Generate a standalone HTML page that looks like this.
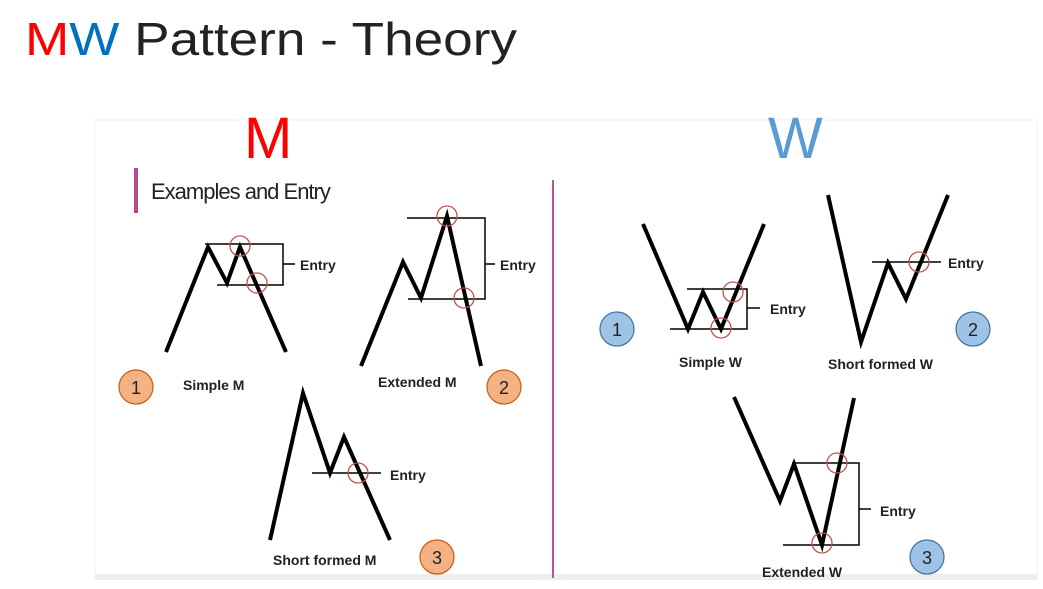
<!DOCTYPE html>
<html><head><meta charset="utf-8"><style>
html,body{margin:0;padding:0;background:#fff;}
svg{display:block;}
text{font-family:"Liberation Sans",sans-serif;}
</style></head><body>
<svg width="1043" height="589" viewBox="0 0 1043 589" xmlns="http://www.w3.org/2000/svg">
<rect x="0" y="0" width="1043" height="589" fill="#fff"/>
<text x="25" y="55" font-size="46" textLength="492" lengthAdjust="spacingAndGlyphs"><tspan fill="#ff0000">M</tspan><tspan fill="#0070c0">W</tspan><tspan fill="#222"> Pattern - Theory</tspan></text>
<rect x="95" y="120" width="942" height="458" fill="#fff" stroke="#f0f0f0"/>
<rect x="95" y="574" width="942" height="6" fill="#eeeeee"/>
<text x="244" y="158" font-size="58" fill="#ff0000">M</text>
<text x="768" y="158" font-size="58" fill="#5b9bd5">W</text>
<rect x="134" y="168" width="4" height="45" fill="#b9468a"/>
<text x="151" y="199" font-size="22" fill="#222" letter-spacing="-1">Examples and Entry</text>
<line x1="553" y1="180" x2="553" y2="578" stroke="#c0508f" stroke-width="2"/>

<g fill="none" stroke="#000" stroke-width="4" stroke-linejoin="miter">
<polyline points="166,352 208,247 227,283 240,247 286,352"/>
<polyline points="361,366 403,262 421,298 447,216 481,366"/>
<polyline points="270,540 303,393 330,473 344,437 390,540"/>
<polyline points="643,224 688,329 703,292 721,329 764,224"/>
<polyline points="828,195 861,342 888,263 906,299 948,195"/>
<polyline points="734,397 780,501 794,464 822,545 854,398"/>
</g>
<g fill="none" stroke="#000" stroke-width="1.5">
<polyline points="205,244 283,244 283,285 217,285"/><line x1="283" y1="264" x2="295" y2="264"/>
<polyline points="407,218 485,218 485,299 408,299"/><line x1="485" y1="264" x2="495" y2="264"/>
<line x1="312" y1="473" x2="381" y2="473"/>
<polyline points="687,289 747,289 747,329 670,329"/><line x1="747" y1="308" x2="760" y2="308"/>
<line x1="872" y1="262" x2="941" y2="262"/>
<polyline points="792,463 859,463 859,545 783,545"/><line x1="859" y1="509" x2="871" y2="509"/>
</g>
<g fill="none" stroke="#c0504d" stroke-width="1.3">
<circle cx="240" cy="246" r="10"/><circle cx="257" cy="283" r="10"/>
<circle cx="447" cy="216" r="10"/><circle cx="464" cy="298" r="10"/>
<circle cx="358" cy="473" r="10"/>
<circle cx="733" cy="292" r="10"/><circle cx="721" cy="328" r="10"/>
<circle cx="919" cy="262" r="10"/>
<circle cx="837" cy="463" r="10"/><circle cx="822" cy="543" r="10"/>
</g>
<g font-size="14" font-weight="bold" fill="#222">
<text x="300" y="270">Entry</text>
<text x="500" y="270">Entry</text>
<text x="390" y="480">Entry</text>
<text x="770" y="314">Entry</text>
<text x="948" y="268">Entry</text>
<text x="880" y="516">Entry</text>
<text x="183" y="390">Simple M</text>
<text x="378" y="387">Extended M</text>
<text x="273" y="565">Short formed M</text>
<text x="679" y="367">Simple W</text>
<text x="828" y="369">Short formed W</text>
<text x="762" y="577">Extended W</text>
</g>
<g stroke-width="1.2">
<circle cx="136" cy="387" r="17" fill="#f4b183" stroke="#c55a11"/>
<circle cx="504" cy="387" r="17" fill="#f4b183" stroke="#c55a11"/>
<circle cx="437" cy="557" r="17" fill="#f4b183" stroke="#c55a11"/>
<circle cx="617" cy="329" r="17" fill="#9dc3e6" stroke="#41719c"/>
<circle cx="973" cy="329" r="17" fill="#9dc3e6" stroke="#41719c"/>
<circle cx="927" cy="557" r="17" fill="#9dc3e6" stroke="#41719c"/>
</g>
<g font-size="18" fill="#222" text-anchor="middle">
<text x="136" y="394">1</text><text x="504" y="394">2</text><text x="437" y="564">3</text>
<text x="617" y="336">1</text><text x="973" y="336">2</text><text x="927" y="564">3</text>
</g>
</svg>
</body></html>
